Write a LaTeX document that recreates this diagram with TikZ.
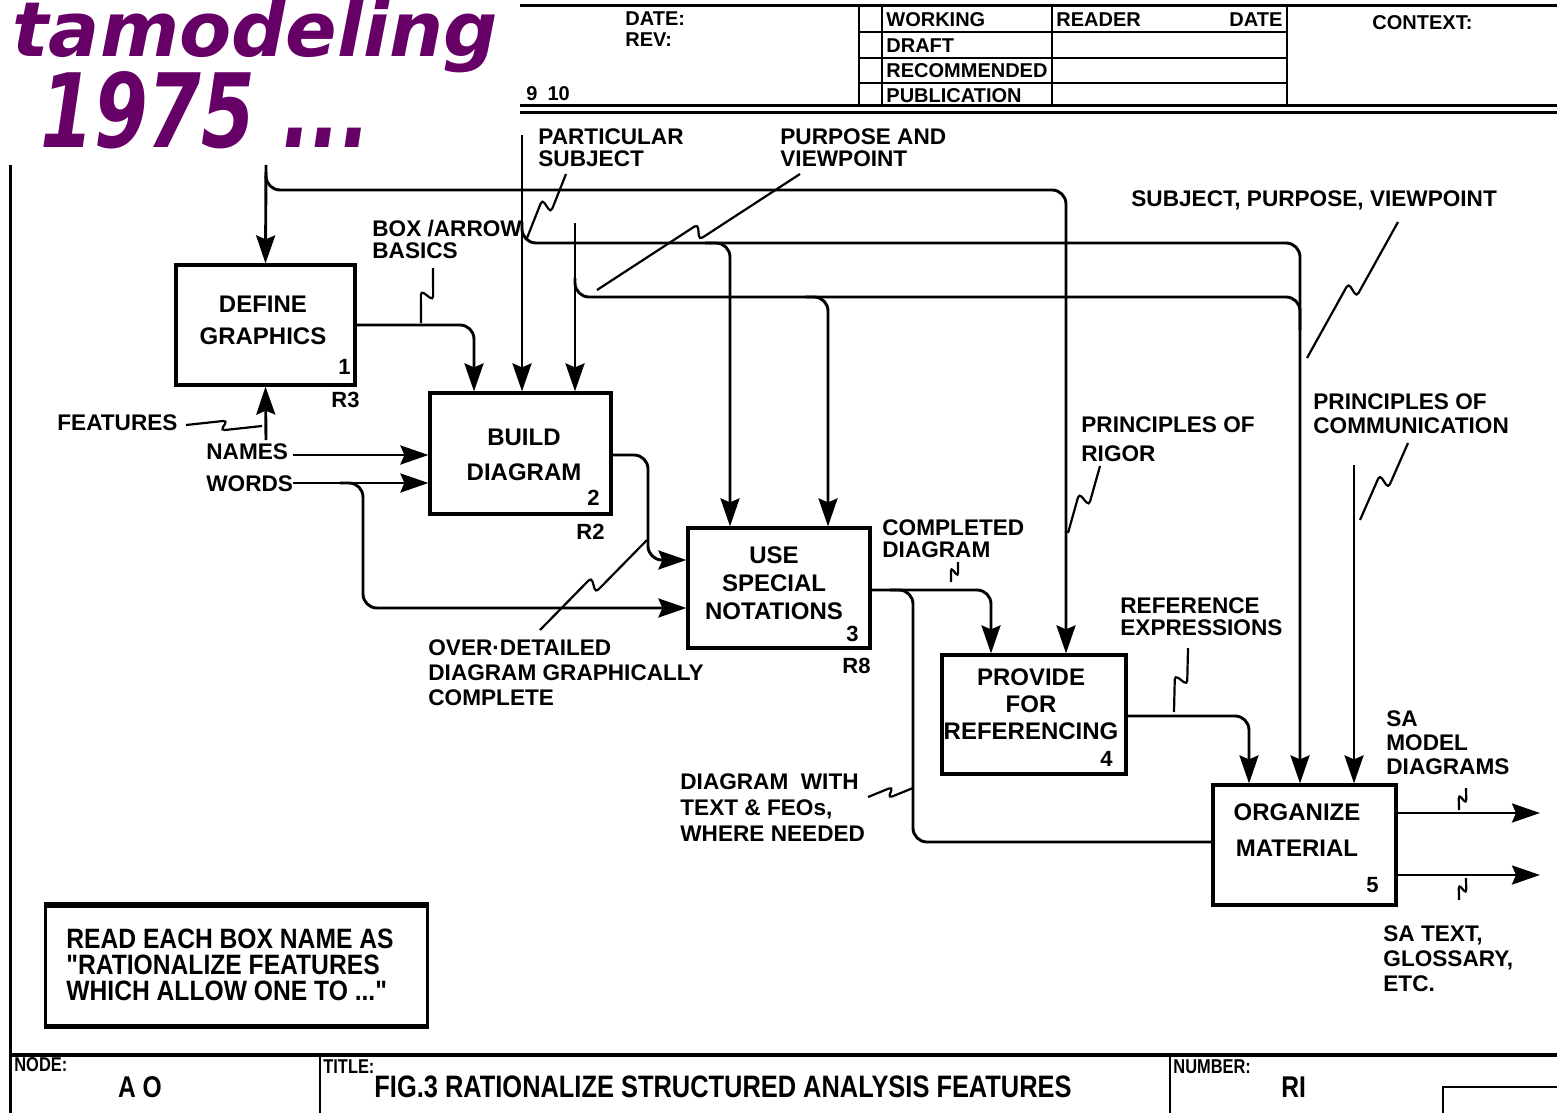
\documentclass[tikz,border=0pt]{standalone}
\usepackage{fontspec}
\usepackage{graphicx}
\setmainfont{Liberation Sans}
\newfontfamily\titlefont{DejaVu Sans}
\newfontfamily\notefont[FakeStretch=0.88]{Liberation Sans}
\newfontfamily\barfont[FakeStretch=0.82]{Liberation Sans}
\usetikzlibrary{arrows.meta,calc}
\definecolor{titlepurple}{RGB}{102,0,102}
\newcommand\lf[1]{\fontsize{11.3}{#1}\selectfont\bfseries}
% squiggle from label point #1 to line point #2, kink amplitude #3
\newcommand\sqg[3]{\draw[squig] (#1) -- ($(#1)!0.5!(#2)!1.6pt!(#2)!#3!90:(#2)$) -- ($(#1)!0.5!(#2)!-1.6pt!(#2)!#3!90:(#1)$) -- (#2);}
\tikzset{
  ln/.style={line width=1.45pt, rounded corners=7pt},
  arr/.style={ln, -{Stealth[length=14pt,width=9.5pt,inset=2pt]}},
  box/.style={draw, line width=1.6pt, inner sep=0pt},
  boxtxt/.style={font=\fontsize{12}{#1}\selectfont\bfseries, align=center, inner sep=0pt},
  lbl/.style={font=\lf{#1}, align=left, inner sep=0pt, anchor=base west},
  lbl/.default=12,
  num/.style={font=\fontsize{11}{12}\selectfont\bfseries, inner sep=0pt, anchor=base west},
  squig/.style={line width=1.1pt, rounded corners=2pt},
  hdr/.style={font=\fontsize{10}{12}\selectfont\bfseries, inner sep=0pt, anchor=base west},
  frame/.style={line width=1.5pt},
}
\begin{document}
\begin{tikzpicture}[x=0.5pt,y=-0.5pt]
\useasboundingbox (0,0) rectangle (1557,1113);
\fill[white] (0,0) rectangle (1557,1113);

% ---------- title overlay ----------
\begin{scope}
\clip (0,0) rectangle (520,165);
\node[anchor=base west, inner sep=0pt, text=titlepurple, font=\fontsize{38}{40}\titlefont\bfseries\itshape] (ttl1) at (12,57) {tamodeling};
\node[anchor=base west, inner sep=0pt, text=titlepurple] (ttl2) at (40,148) {\resizebox{165pt}{38pt}{\titlefont\bfseries\itshape 1975 ...}};
\end{scope}

% ---------- header form ----------
\draw[frame] (520,6) -- (1557,6);
\draw[frame] (520,106) -- (1557,106);
\draw[frame] (520,113) -- (1557,113);
\foreach \xx in {859,882,1052,1287} \draw[line width=1.2pt] (\xx,6) -- (\xx,106);
\foreach \yy in {32,58,83} \draw[line width=1.2pt] (859,\yy) -- (1287,\yy);
\node[hdr] (hdate) at (625,26) {DATE:};
\node[hdr] (hrev) at (625,47) {REV:};
\node[hdr] (hnine) at (526,101) {9\enspace 10};
\node[hdr] (hwork) at (886,27) {WORKING};
\node[hdr] (hdraft) at (886,53) {DRAFT};
\node[hdr] (hrec) at (886,78) {RECOMMENDED};
\node[hdr] (hpub) at (886,103) {PUBLICATION};
\node[hdr] (hread) at (1056,27) {READER};
\node[hdr] (hrdate) at (1229,27) {DATE};
\node[hdr] (hctx) at (1372,30) {CONTEXT:};

% ---------- frame ----------
\draw[frame] (10,165) -- (10,1113);
\draw[line width=2.2pt] (10,1055) -- (1557,1055);
\draw[line width=1.3pt] (320,1056) -- (320,1113);
\draw[line width=1.3pt] (1170,1056) -- (1170,1113);
\draw[line width=1.3pt] (1443,1113) -- (1443,1087) -- (1557,1087);
\node[anchor=base west, inner sep=0pt, font=\fontsize{10}{12}\barfont\bfseries] (fnode) at (14,1071) {NODE:};
\node[anchor=base, inner sep=0pt, font=\fontsize{15}{16}\barfont\bfseries] (fnodev) at (140,1097) {A O};
\node[anchor=base west, inner sep=0pt, font=\fontsize{10}{12}\barfont\bfseries] (ftitle) at (323,1073) {TITLE:};
\node[anchor=base west, inner sep=0pt, font=\fontsize{15.5}{16}\barfont\bfseries] (ftitlev) at (374,1097) {FIG.3 RATIONALIZE STRUCTURED ANALYSIS FEATURES};
\node[anchor=base west, inner sep=0pt, font=\fontsize{10}{12}\barfont\bfseries] (fnum) at (1173,1073) {NUMBER:};
\node[anchor=base west, inner sep=0pt, font=\fontsize{15}{16}\barfont\bfseries] (fnumv) at (1281,1097) {RI};

% ---------- note box ----------
\node[draw, line width=1.5pt, minimum width=191pt, minimum height=59.5pt, inner sep=0pt] (note) at (236,965.5) {};
\draw[line width=2.6pt] (note.north west) -- (note.north east);
\draw[line width=2.6pt] (note.south west) -- (note.south east);
\node[anchor=base west, inner sep=0pt, align=left, font=\fontsize{14}{13}\notefont\bfseries] (notet) at (66,1000) {READ EACH BOX NAME AS\\"RATIONALIZE FEATURES\\WHICH ALLOW ONE TO ..."};

% ---------- boxes ----------
\node[box, minimum width=89.5pt, minimum height=60pt] (b1) at (265.5,325) {};
\node[box, minimum width=90.5pt, minimum height=60.5pt] (b2) at (520.5,453.5) {};
\node[box, minimum width=91pt, minimum height=60pt] (b3) at (779,588) {};
\node[box, minimum width=92pt, minimum height=59.5pt] (b4) at (1034,714.5) {};
\node[box, minimum width=91.5pt, minimum height=60pt] (b5) at (1304.5,845) {};
\node[boxtxt=16] (b1t) at (263,320) {DEFINE\\GRAPHICS};
\node[boxtxt=17.5] (b2t) at (524,455) {BUILD\\DIAGRAM};
\node[boxtxt=14] (b3t) at (774,583) {USE\\SPECIAL\\NOTATIONS};
\node[boxtxt=13.5] (b4t) at (1031,704) {PROVIDE\\FOR\\REFERENCING};
\node[boxtxt=18] (b5t) at (1297,830) {ORGANIZE\\MATERIAL};
\node[num] (n1) at (338,374) {1};
\node[num] (n2) at (587,505) {2};
\node[num] (n3) at (846,641) {3};
\node[num] (n4) at (1100,766) {4};
\node[num] (n5) at (1366,892) {5};
\node[num] (r3) at (331,407) {R3};
\node[num] (r2) at (576,539) {R2};
\node[num] (r8) at (842,673) {R8};

% ---------- connectors ----------
\draw[arr] (266,165) -- (b1.north);
\draw[arr] (266,172) -- (266,190) -- (1066,190) -- (1066,0 |- b4.north);
\draw[arr] (522,135) -- (522,0 |- b2.north);
\draw[arr] (522,222) -- (522,243) -- (1300,243) -- (1300,0 |- b5.north);
\draw[arr] (705,243) -- (730,243) -- (730,0 |- b3.north);
\draw[arr] (575,223) -- (575,0 |- b2.north);
\draw[ln] (575,278) -- (575,297) -- (1300,297) -- (1300,330);
\draw[arr] (805,297) -- (828,297) -- (828,0 |- b3.north);
\draw[arr] (b1.east) -- (474,325) -- (474,0 |- b2.north);
\draw[arr] (266,440) -- (b1.south);
\draw[arr] (293,455) -- (b2.west |- 0,455);
\draw[arr] (293,483) -- (b2.west |- 0,483);
\draw[arr] (340,483) -- (363,483) -- (363,608) -- (b3.west |- 0,608);
\draw[arr] (b2.east |- 0,455) -- (648,455) -- (648,560) -- (b3.west |- 0,560);
\draw[arr] (b3.east |- 0,590) -- (991,590) -- (991,0 |- b4.north);
\draw[ln] (890,590) -- (913,590) -- (913,842) -- (b5.west |- 0,842);
\draw[arr] (b4.east |- 0,716) -- (1249,716) -- (1249,0 |- b5.north);
\draw[arr] (1354,465) -- (1354,0 |- b5.north);
\draw[arr] (b5.east |- 0,813) -- (1540,813);
\draw[arr] (b5.east |- 0,875) -- (1540,875);

% ---------- labels (position = baseline of last line) ----------
\node[lbl=11] (lpart) at (538,166) {PARTICULAR\\SUBJECT};
\node[lbl=11] (lpurp) at (780,166) {PURPOSE AND\\VIEWPOINT};
\node[lbl=10.8] (lbox) at (372,258) {BOX /ARROW\\BASICS};
\node[lbl] (lspv) at (1131,206) {SUBJECT, PURPOSE, VIEWPOINT};
\node[lbl=14.5] (lrig) at (1081,461) {PRINCIPLES OF\\RIGOR};
\node[lbl=12] (lcom) at (1313,433) {PRINCIPLES OF\\COMMUNICATION};
\node[lbl] (lfeat) at (57,430) {FEATURES};
\node[lbl] (lnames) at (206,459) {NAMES};
\node[lbl] (lwords) at (206,491) {WORDS};
\node[lbl=11] (lcomp) at (882,557) {COMPLETED\\DIAGRAM};
\node[lbl=11] (lref) at (1120,635) {REFERENCE\\EXPRESSIONS};
\node[lbl=12.5] (lover) at (428,705) {OVER·DETAILED\\DIAGRAM GRAPHICALLY\\COMPLETE};
\node[lbl=13] (ldwt) at (680,841) {DIAGRAM\ \ WITH\\TEXT \& FEOs,\\WHERE NEEDED};
\node[lbl=11.8] (lsam) at (1386,774) {SA\\MODEL\\DIAGRAMS};
\node[lbl=12.5] (lsat) at (1383,991) {SA TEXT,\\GLOSSARY,\\ETC.};

% ---------- squiggles ----------
\sqg{433,268}{421,323}{3.5pt}
\sqg{566,174}{527,238}{3.5pt}
\sqg{800,174}{597,290}{3.5pt}
\sqg{1398,222}{1307,358}{3.5pt}
\sqg{1100,466}{1068,533}{3.5pt}
\sqg{1408,443}{1360,520}{3.5pt}
\sqg{958,562}{951,582}{2.5pt}
\sqg{1188,648}{1174,712}{3.5pt}
\sqg{868,797}{913,788}{2.5pt}
\sqg{540,630}{647,540}{3.5pt}
\sqg{186,425}{262,426}{2.5pt}
\sqg{1466,788}{1459,810}{2.5pt}
\sqg{1466,878}{1459,900}{2.5pt}
\end{tikzpicture}
\end{document}
